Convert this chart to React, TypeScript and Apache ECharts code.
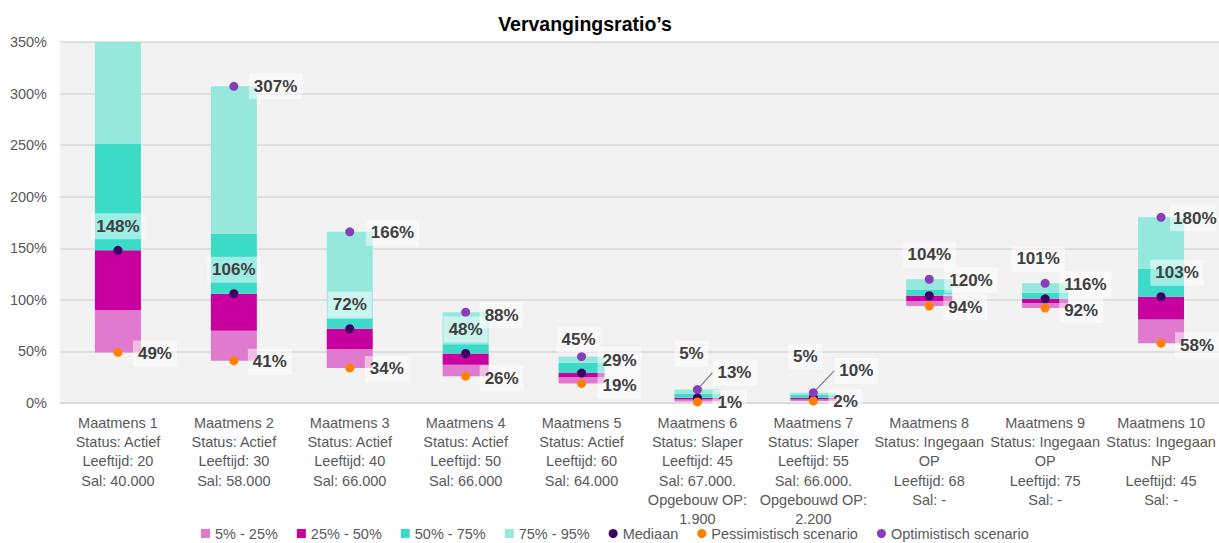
import React, { useEffect, useRef } from "react";
import * as echarts from "echarts";

const categories = [
  "Maatmens 1\nStatus: Actief\nLeeftijd: 20\nSal: 40.000",
  "Maatmens 2\nStatus: Actief\nLeeftijd: 30\nSal: 58.000",
  "Maatmens 3\nStatus: Actief\nLeeftijd: 40\nSal: 66.000",
  "Maatmens 4\nStatus: Actief\nLeeftijd: 50\nSal: 66.000",
  "Maatmens 5\nStatus: Actief\nLeeftijd: 60\nSal: 64.000",
  "Maatmens 6\nStatus: Slaper\nLeeftijd: 45\nSal: 67.000.\nOpgebouw OP:\n1.900",
  "Maatmens 7\nStatus: Slaper\nLeeftijd: 55\nSal: 66.000.\nOpgebouwd OP:\n2.200",
  "Maatmens 8\nStatus: Ingegaan\nOP\nLeeftijd: 68\nSal: -",
  "Maatmens 9\nStatus: Ingegaan\nOP\nLeeftijd: 75\nSal: -",
  "Maatmens 10\nStatus: Ingegaan\nNP\nLeeftijd: 45\nSal: -",
];

// percentile boundaries (%)
const p5 = [49, 41, 34, 26, 19, 1.5, 2, 94, 92, 58];
const p25 = [90, 70, 52, 37, 25, 3.5, 3.5, 99, 97, 81];
const p50 = [148, 106, 72, 48, 29, 5, 5, 104, 101, 103];
const p75 = [251, 164, 82, 57, 39, 9, 8, 110, 107, 130];
const p95 = [350, 307, 166, 88, 45, 13, 10, 120, 116, 180];

// scenario points (%)
const median = [148, 106, 72, 48, 29, 5, 5, 104, 101, 103];
const pessimistic = [49, 41, 34, 26, 19, 1, 2, 94, 92, 58];
const optimistic: (number | null)[] = [null, 307, 166, 88, 45, 13, 10, 120, 116, 180];

const yMin = 0;
const yMax = 350;
const yInterval = 50;

const bandNames = ["5% - 25%", "25% - 50%", "50% - 75%", "75% - 95%"];
const bandColors = ["#E07ACF", "#C800A0", "#3BDBC8", "#96E8DC"];
const pointNames = ["Mediaan", "Pessimistisch scenario", "Optimistisch scenario"];
const pointColors = ["#3F0066", "#FF8000", "#8A3DB8"];

// label placement: [dx, dy, align, leaderLine, tightRight]
type LP = [number, number, "left" | "center", boolean?, boolean?] | null;
const medianLabelPos: LP[] = [
  [0, -24, "center"], [0, -24, "center"], [0, -24, "center"], [0, -24, "center"],
  [16, -13, "left"], [-6, -44, "center"], [-8, -41, "center"], [0, -41, "center"],
  [-7, -40, "center"], [16, -24, "center"],
];
const optimisticLabelPos: LP[] = [
  null, [15, 0, "left"], [16, 1, "left"], [14, 3, "left"], [-3, -17, "center"],
  [15, -17, "left", true], [21, -22, "left", true], [15, 1, "left"], [14, 1, "left"],
  [9, 1, "left", false, true],
];
const pessimisticLabelPos: LP[] = [
  [15, 1, "left"], [14, 1, "left"], [15, 1, "left"], [14, 2, "left"], [16, 2, "left"],
  [15, 1, "left"], [15, 1, "left"], [14, 1, "left"], [14, 2, "left"], [14, 2, "left"],
];

const FONT = "'Liberation Sans', Arial, sans-serif";

function pointData(values: (number | null)[], pos: LP[]) {
  return values.map((v, i) => {
    const p = pos[i];
    if (v === null || v === undefined) return null;
    if (!p) return { value: v, label: { show: false } };
    const label: any = { offset: [p[0], p[1]], align: p[2] };
    if (p[4]) label.padding = [3, 0, 3, 3];
    return {
      value: v,
      label,
      labelLine: p[3]
        ? { show: true, lineStyle: { color: "#7f7f7f", width: 1.2 } }
        : { show: false },
    };
  });
}

export default function App() {
  const ref = useRef<HTMLDivElement>(null);
  useEffect(() => {
    if (!ref.current) return;
    const chart = echarts.init(ref.current, undefined, { renderer: "svg" });

    const bands = [p5, p25, p50, p75, p95];
    const bandSeries = bandNames.map((name, k) => ({
      name,
      type: "bar",
      stack: "pct",
      barWidth: 46,
      silent: true,
      itemStyle: { color: bandColors[k] },
      data: bands[k + 1].map((v, i) => +(v - bands[k][i]).toFixed(2)),
    }));

    const labelBase = {
      show: true,
      position: "inside",
      formatter: "{c}%",
      color: "#404040",
      fontFamily: FONT,
      fontWeight: "bold",
      fontSize: 17,
      lineHeight: 20,
      verticalAlign: "middle",
      backgroundColor: "rgba(255,255,255,0.5)",
      padding: [3, 5],
    };

    const pointSets = [
      pointData(median, medianLabelPos),
      pointData(pessimistic, pessimisticLabelPos),
      pointData(optimistic, optimisticLabelPos),
    ];
    const pointSeries = pointNames.map((name, k) => ({
      name,
      type: "scatter",
      symbol: "circle",
      symbolSize: 9,
      z: 5,
      itemStyle: { color: pointColors[k], opacity: 1 },
      label: labelBase,
      labelLine: { show: false },
      data: pointSets[k],
    }));

    chart.setOption({
      animation: false,
      backgroundColor: "#ffffff",
      title: {
        text: "Vervangingsratio’s",
        left: 585,
        top: 14,
        padding: 0,
        textAlign: "center",
        textStyle: {
          fontFamily: FONT,
          fontWeight: "bold",
          fontSize: 19.5,
          color: "#000000",
        },
      },
      legend: {
        left: 201,
        top: 526,
        padding: 0,
        itemWidth: 9,
        itemHeight: 9,
        itemGap: 19,
        selectedMode: false,
        textStyle: { color: "#595959", fontFamily: FONT, fontSize: 14.5 },
        data: [
          ...bandNames.map((n) => ({ name: n, icon: "rect" })),
          ...pointNames.map((n) => ({ name: n, icon: "circle" })),
        ],
      },
      grid: {
        left: 60,
        right: 0,
        top: 42,
        bottom: 140,
        show: true,
        backgroundColor: "#f2f2f2",
        borderWidth: 0,
      },
      xAxis: {
        type: "category",
        data: categories,
        axisTick: { show: false },
        axisLine: { show: true, lineStyle: { color: "#d9d9d9", width: 1.5 } },
        axisLabel: {
          interval: 0,
          margin: 10,
          color: "#595959",
          fontFamily: FONT,
          fontSize: 14.5,
          lineHeight: 19.3,
          verticalAlign: "top",
        },
      },
      yAxis: {
        type: "value",
        min: yMin,
        max: yMax,
        interval: yInterval,
        axisLine: { show: false },
        axisTick: { show: false },
        splitLine: { lineStyle: { color: "#d9d9d9", width: 1.5 } },
        axisLabel: {
          formatter: "{value}%",
          margin: 13,
          color: "#595959",
          fontFamily: FONT,
          fontSize: 14.5,
        },
      },
      series: [
        {
          name: "base",
          type: "bar",
          stack: "pct",
          barWidth: 46,
          silent: true,
          itemStyle: { color: "rgba(0,0,0,0)" },
          data: p5,
        },
        ...bandSeries,
        ...pointSeries,
      ],
    });
    return () => chart.dispose();
  }, []);
  return (
    <div
      ref={ref}
      style={{ position: "fixed", left: 0, top: 0, width: 1219, height: 543 }}
    />
  );
}
